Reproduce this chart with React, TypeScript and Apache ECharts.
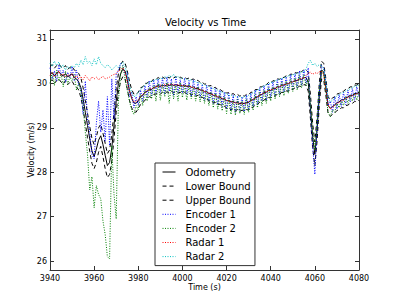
import React, { useEffect, useRef } from "react";
import * as echarts from "echarts";

const START = 3940;
const STEP = 1;

const xTicks = [3940, 3960, 3980, 4000, 4020, 4040, 4060, 4080];
const yTicks = [26, 27, 28, 29, 30, 31];

const odometry = [
  30.20, 30.24, 30.17, 30.23, 30.26, 30.20, 30.16, 30.22, 30.14, 30.19,
  30.21, 30.13, 30.10, 30.03, 29.90, 29.65, 29.35, 29.05, 28.75, 28.48,
  28.35, 28.52, 28.72, 28.82, 28.62, 28.38, 28.15, 28.22, 28.55, 29.05,
  29.60, 30.00, 30.22, 30.32, 30.28, 30.08, 29.84, 29.66, 29.56, 29.55,
  29.61, 29.70, 29.73, 29.80, 29.82, 29.87, 29.86, 29.91, 29.92, 29.95,
  29.93, 29.96, 29.94, 29.97, 29.95, 29.98, 29.95, 29.97, 29.95, 29.96,
  29.94, 29.96, 29.93, 29.94, 29.91, 29.92, 29.88, 29.89, 29.85, 29.85,
  29.81, 29.81, 29.77, 29.77, 29.73, 29.73, 29.69, 29.69, 29.65, 29.65,
  29.61, 29.61, 29.58, 29.59, 29.56, 29.57, 29.54, 29.56, 29.54, 29.57,
  29.57, 29.62, 29.63, 29.68, 29.69, 29.74, 29.75, 29.79, 29.80, 29.84,
  29.84, 29.88, 29.88, 29.92, 29.92, 29.96, 29.96, 29.99, 29.99, 30.03,
  30.03, 30.06, 30.06, 30.10, 30.09, 30.13, 30.13, 30.02, 29.45, 28.80,
  28.40, 28.95, 29.70, 30.30, 30.26, 29.90, 29.50, 29.44, 29.48, 29.51,
  29.57, 29.58, 29.63, 29.63, 29.68, 29.69, 29.73, 29.73, 29.77, 29.77,
  29.80,
];

const lowerBound = [
  30.05, 30.08, 30.00, 30.06, 30.10, 30.03, 29.98, 30.06, 29.97, 30.02,
  30.05, 29.96, 29.92, 29.85, 29.68, 29.42, 29.10, 28.78, 28.47, 28.20,
  28.08, 28.22, 28.45, 28.58, 28.35, 28.08, 27.88, 27.95, 28.25, 28.75,
  29.35, 29.80, 30.05, 30.15, 30.10, 29.88, 29.62, 29.45, 29.36, 29.35,
  29.44, 29.52, 29.56, 29.62, 29.66, 29.70, 29.68, 29.75, 29.76, 29.78,
  29.76, 29.80, 29.77, 29.81, 29.78, 29.82, 29.79, 29.81, 29.78, 29.80,
  29.77, 29.80, 29.76, 29.78, 29.74, 29.76, 29.71, 29.73, 29.68, 29.69,
  29.64, 29.65, 29.60, 29.61, 29.56, 29.57, 29.52, 29.53, 29.48, 29.49,
  29.44, 29.45, 29.40, 29.43, 29.38, 29.41, 29.36, 29.40, 29.37, 29.41,
  29.40, 29.46, 29.46, 29.52, 29.52, 29.58, 29.58, 29.63, 29.63, 29.68,
  29.67, 29.72, 29.71, 29.76, 29.75, 29.80, 29.79, 29.83, 29.82, 29.87,
  29.86, 29.90, 29.89, 29.94, 29.92, 29.97, 29.96, 29.82, 29.20, 28.55,
  28.15, 28.70, 29.48, 30.10, 30.08, 29.72, 29.32, 29.26, 29.30, 29.33,
  29.39, 29.40, 29.45, 29.45, 29.50, 29.51, 29.55, 29.55, 29.59, 29.59,
  29.62,
];

const upperBound = [
  30.38, 30.42, 30.34, 30.40, 30.44, 30.37, 30.34, 30.40, 30.31, 30.36,
  30.38, 30.30, 30.27, 30.22, 30.12, 29.90, 29.62, 29.33, 29.03, 28.76,
  28.62, 28.80, 29.00, 29.08, 28.88, 28.65, 28.42, 28.50, 28.85, 29.35,
  29.88, 30.22, 30.42, 30.50, 30.46, 30.28, 30.05, 29.86, 29.76, 29.75,
  29.80, 29.90, 29.92, 30.00, 30.00, 30.06, 30.04, 30.10, 30.09, 30.13,
  30.10, 30.14, 30.11, 30.15, 30.12, 30.16, 30.12, 30.15, 30.12, 30.14,
  30.11, 30.14, 30.10, 30.12, 30.08, 30.10, 30.05, 30.07, 30.02, 30.03,
  29.98, 29.99, 29.94, 29.95, 29.90, 29.91, 29.86, 29.87, 29.82, 29.83,
  29.78, 29.79, 29.75, 29.77, 29.73, 29.75, 29.71, 29.74, 29.71, 29.75,
  29.74, 29.80, 29.80, 29.86, 29.86, 29.92, 29.92, 29.97, 29.97, 30.02,
  30.01, 30.06, 30.05, 30.10, 30.09, 30.14, 30.13, 30.17, 30.16, 30.21,
  30.20, 30.24, 30.23, 30.28, 30.26, 30.31, 30.30, 30.25, 29.75, 29.10,
  28.68, 29.25, 30.00, 30.50, 30.45, 30.10, 29.70, 29.63, 29.67, 29.70,
  29.76, 29.77, 29.82, 29.82, 29.87, 29.88, 29.92, 29.92, 29.96, 29.96,
  29.99,
];

const encoder1 = [
  30.35, 30.10, 30.28, 30.05, 30.42, 30.18, 30.30, 30.02, 30.25, 30.12,
  30.38, 30.05, 30.30, 29.95, 29.90, 29.30, 30.05, 29.20, 28.90, 28.40,
  28.30, 29.10, 29.60, 28.90, 29.40, 28.70, 29.70, 28.60, 30.10, 29.20,
  30.20, 30.30, 30.45, 30.40, 30.20, 30.25, 29.70, 29.80, 29.45, 29.70,
  29.50, 29.85, 29.60, 29.95, 29.70, 30.05, 29.72, 30.08, 29.78, 30.10,
  29.80, 30.12, 29.75, 30.15, 29.82, 30.10, 29.72, 30.14, 29.80, 30.08,
  29.78, 30.12, 29.75, 30.06, 29.70, 30.08, 29.72, 30.02, 29.68, 29.98,
  29.62, 29.96, 29.60, 29.92, 29.55, 29.88, 29.52, 29.85, 29.48, 29.80,
  29.42, 29.78, 29.40, 29.74, 29.35, 29.72, 29.38, 29.70, 29.36, 29.74,
  29.40, 29.78, 29.48, 29.85, 29.52, 29.90, 29.60, 29.95, 29.62, 30.00,
  29.68, 30.04, 29.72, 30.08, 29.75, 30.12, 29.80, 30.15, 29.82, 30.20,
  29.88, 30.22, 29.90, 30.28, 29.95, 30.30, 30.00, 30.35, 29.40, 28.60,
  27.95, 29.00, 29.80, 30.40, 30.35, 30.00, 29.50, 29.60, 29.35, 29.70,
  29.42, 29.75, 29.48, 29.80, 29.52, 29.85, 29.58, 29.88, 29.62, 29.92,
  29.70,
];

const encoder2 = [
  30.00, 30.25, 29.95, 30.30, 30.05, 30.22, 29.92, 30.28, 29.98, 30.15,
  30.05, 30.20, 29.85, 30.00, 29.80, 29.50, 28.90, 28.40, 27.60, 27.90,
  27.20, 27.70, 27.50, 27.40, 26.90, 26.60, 26.10, 26.05, 28.60, 27.50,
  26.95, 29.60, 30.20, 30.40, 30.10, 29.85, 29.60, 29.40, 29.30, 29.50,
  29.40, 29.75, 29.50, 29.85, 29.60, 29.90, 29.65, 29.95, 29.60, 30.00,
  29.62, 29.98, 29.70, 30.02, 29.55, 30.00, 29.65, 29.95, 29.60, 30.02,
  29.68, 29.96, 29.62, 29.98, 29.65, 29.90, 29.60, 29.92, 29.58, 29.85,
  29.55, 29.82, 29.50, 29.80, 29.45, 29.78, 29.42, 29.75, 29.38, 29.70,
  29.32, 29.66, 29.30, 29.62, 29.28, 29.64, 29.32, 29.60, 29.30, 29.65,
  29.35, 29.68, 29.40, 29.75, 29.45, 29.80, 29.50, 29.85, 29.55, 29.90,
  29.60, 29.92, 29.65, 29.98, 29.70, 30.02, 29.72, 30.05, 29.78, 30.10,
  29.82, 30.12, 29.85, 30.18, 29.90, 30.20, 29.95, 30.10, 29.50, 28.90,
  28.50, 29.10, 29.85, 30.30, 30.20, 29.80, 29.35, 29.25, 29.40, 29.35,
  29.55, 29.45, 29.60, 29.50, 29.70, 29.55, 29.72, 29.60, 29.78, 29.62,
  29.82,
];

const radar1 = [
  30.18, 30.25, 30.15, 30.20, 30.28, 30.17, 30.22, 30.14, 30.20, 30.16,
  30.22, 30.12, 30.18, 30.10, 30.15, 30.08, 30.18, 30.12, 30.06, 30.15,
  30.10, 30.14, 30.08, 30.12, 30.16, 30.10, 30.12, 30.14, 30.18, 30.20,
  30.22, 30.28, 30.30, 30.35, 30.25, 30.05, 29.82, 29.68, 29.58, 29.60,
  29.62, 29.70, 29.75, 29.78, 29.84, 29.85, 29.90, 29.88, 29.94, 29.92,
  29.96, 29.93, 29.98, 29.95, 29.99, 29.96, 29.98, 29.95, 29.98, 29.94,
  29.96, 29.93, 29.95, 29.92, 29.93, 29.89, 29.90, 29.86, 29.87, 29.83,
  29.83, 29.79, 29.79, 29.75, 29.75, 29.71, 29.71, 29.67, 29.67, 29.63,
  29.63, 29.59, 29.60, 29.56, 29.58, 29.54, 29.57, 29.53, 29.56, 29.55,
  29.59, 29.60, 29.65, 29.66, 29.71, 29.72, 29.77, 29.78, 29.82, 29.82,
  29.86, 29.86, 29.90, 29.90, 29.94, 29.94, 29.98, 29.97, 30.01, 30.01,
  30.05, 30.04, 30.08, 30.08, 30.12, 30.11, 30.18, 30.22, 30.25, 30.20,
  30.24, 30.22, 30.26, 30.28, 30.20, 29.88, 29.52, 29.42, 29.46, 29.50,
  29.55, 29.57, 29.61, 29.62, 29.66, 29.68, 29.71, 29.72, 29.75, 29.76,
  29.78,
];

const radar2 = [
  30.45, 30.38, 30.50, 30.40, 30.48, 30.35, 30.42, 30.30, 30.38, 30.32,
  30.40, 30.35, 30.45, 30.38, 30.52, 30.42, 30.60, 30.45, 30.50, 30.40,
  30.55, 30.42, 30.60, 30.45, 30.40, 30.35, 30.42, 30.38, 30.30, 30.35,
  30.40, 30.35, 30.42, 30.48, 30.38, 30.20, 29.95, 29.80, 29.70, 29.72,
  29.80, 29.85, 29.92, 29.95, 30.00, 30.02, 30.06, 30.05, 30.10, 30.08,
  30.12, 30.10, 30.15, 30.12, 30.18, 30.14, 30.20, 30.12, 30.16, 30.10,
  30.12, 30.08, 30.10, 30.06, 30.08, 30.03, 30.05, 30.00, 30.02, 29.96,
  29.97, 29.92, 29.93, 29.88, 29.89, 29.84, 29.85, 29.80, 29.81, 29.76,
  29.77, 29.72, 29.74, 29.70, 29.72, 29.68, 29.71, 29.67, 29.70, 29.69,
  29.73, 29.75, 29.79, 29.81, 29.85, 29.87, 29.92, 29.93, 29.97, 29.98,
  30.02, 30.02, 30.06, 30.06, 30.10, 30.10, 30.14, 30.13, 30.17, 30.17,
  30.20, 30.19, 30.23, 30.22, 30.26, 30.25, 30.32, 30.45, 30.52, 30.40,
  30.45, 30.38, 30.42, 30.40, 30.32, 30.02, 29.68, 29.58, 29.62, 29.66,
  29.72, 29.74, 29.78, 29.79, 29.83, 29.85, 29.88, 29.90, 29.93, 29.94,
  29.96,
];

const seriesDefs = [
  { name: "Odometry", data: odometry, color: "#000000", dash: "solid" as any },
  { name: "Lower Bound", data: lowerBound, color: "#000000", dash: [4, 3] },
  { name: "Upper Bound", data: upperBound, color: "#000000", dash: [4, 3] },
  { name: "Encoder 1", data: encoder1, color: "#0000ff", dash: [1, 1.5] },
  { name: "Encoder 2", data: encoder2, color: "#008000", dash: [1, 1.5] },
  { name: "Radar 1", data: radar1, color: "#ff0000", dash: [1, 1.5] },
  { name: "Radar 2", data: radar2, color: "#00bfbf", dash: [1, 1.5] },
];

const FONT = "DejaVu Sans";

export default function App() {
  const ref = useRef<HTMLDivElement>(null);
  useEffect(() => {
    if (!ref.current) return;
    const chart = echarts.init(ref.current, null, { renderer: "svg" });
    const axisCommon = {
      axisLine: { show: true, lineStyle: { color: "#333", width: 1 } },
      axisTick: { show: true, inside: true, length: 4, lineStyle: { color: "#333" } },
      splitLine: { show: false },
    };
    const xBase = { type: "value", min: 3940, max: 4080, interval: 20, ...axisCommon };
    const yBase = { type: "value", min: 25.8, max: 31.2, ...axisCommon };
    chart.setOption({
      animation: false,
      backgroundColor: "#ffffff",
      title: {
        text: "Velocity vs Time",
        left: 165,
        top: 17,
        padding: 0,
        textStyle: { fontFamily: FONT, fontSize: 10, fontWeight: "normal", color: "#000" },
      },
      grid: { left: 50, right: 40, top: 30, bottom: 31 },
      xAxis: [
        {
          ...xBase,
          position: "bottom",
          name: "Time (s)",
          nameLocation: "middle",
          nameGap: 13,
          nameMoveOverlap: false,
          nameTextStyle: { fontFamily: FONT, fontSize: 8, color: "#000" },
          axisLabel: { fontFamily: FONT, fontSize: 8, color: "#000", margin: 4,
            customValues: xTicks, formatter: (v: number) => String(v) },
          axisTick: { ...axisCommon.axisTick, customValues: xTicks },
        },
        {
          ...xBase,
          position: "top",
          axisLabel: { show: false },
          axisTick: { ...axisCommon.axisTick, customValues: xTicks },
        },
      ],
      yAxis: [
        {
          ...yBase,
          position: "left",
          name: "Velocity (m/s)",
          nameLocation: "middle",
          nameRotate: 90,
          nameGap: 15,
          nameMoveOverlap: false,
          nameTextStyle: { fontFamily: FONT, fontSize: 8, color: "#000" },
          axisLabel: { fontFamily: FONT, fontSize: 8, color: "#000", margin: 3,
            customValues: yTicks, formatter: (v: number) => String(v) },
          axisTick: { ...axisCommon.axisTick, customValues: yTicks },
        },
        {
          ...yBase,
          position: "right",
          axisLabel: { show: false },
          axisTick: { ...axisCommon.axisTick, customValues: yTicks },
        },
      ],
      legend: {
        orient: "vertical",
        left: 155,
        top: 163,
        padding: [4, 4, 4, 7],
        itemWidth: 13,
        itemHeight: 10,
        itemGap: 4.1,
        backgroundColor: "#ffffff",
        borderColor: "#333",
        borderWidth: 1,
        borderRadius: 0,
        itemStyle: { opacity: 0 },
        lineStyle: { width: 1 },
        textStyle: { fontFamily: FONT, fontSize: 10, color: "#000", lineHeight: 10,
          padding: [0, 0, 0, 5] },
        data: seriesDefs.map((s) => s.name),
      },
      series: seriesDefs.map((s) => ({
        name: s.name,
        type: "line",
        xAxisIndex: 0,
        yAxisIndex: 0,
        symbol: "none",
        showSymbol: false,
        data: s.data.map((v, i) => [START + i * STEP, v]),
        lineStyle: { color: s.color, width: 1, type: s.dash },
        itemStyle: { color: s.color },
      })),
    });
    return () => chart.dispose();
  }, []);
  return <div ref={ref} style={{ width: 399, height: 301, margin: -8 }} />;
}
